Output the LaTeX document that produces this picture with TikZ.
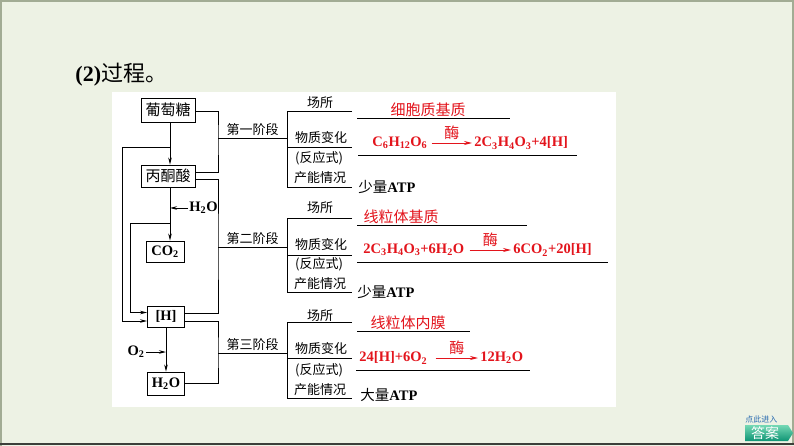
\documentclass[tikz,border=0pt]{standalone}
\usepackage{fontspec}
\setmainfont{Liberation Serif}
\newfontfamily\cjk{Noto Sans CJK SC}
\usetikzlibrary{arrows.meta,calc,positioning}
\definecolor{slideBg}{HTML}{EDF2E4}
\definecolor{slideEdge}{HTML}{A2AC94}
\definecolor{slideDark}{HTML}{3C3F3A}
\definecolor{stageRed}{HTML}{E3141C}
\definecolor{btnLight}{HTML}{74D8B4}
\definecolor{btnDeep}{HTML}{0E9474}
\definecolor{btnBlue}{HTML}{2A6CB0}
\newcommand\zh[1]{{\mdseries\cjk #1}}
\newcommand\dn[1]{\textsubscript{#1}}
\newcommand\fsz[1]{\fontsize{#1}{#1}\selectfont}

\begin{document}
\begin{tikzpicture}[x=1pt,y=-1pt, line width=0.9pt,
    cellbox/.style={draw, inner sep=1pt, fill=white, font=\fsz{15}\cjk},
    formbox/.style={draw, inner sep=1pt, fill=white, font=\fsz{14.5}\bfseries},
    formtxt/.style={inner sep=1pt, font=\fsz{14.5}\bfseries},
    tag/.style={inner sep=0pt, font=\fsz{13}\cjk},
    redzh/.style={inner sep=0pt, text=stageRed, font=\fsz{15}\cjk},
    redtxt/.style={inner sep=0pt, text=stageRed, font=\fsz{14.5}\bfseries},
    atp/.style={inner sep=0pt, font=\fsz{14.5}\bfseries},
    flow/.style={-{Stealth[length=7pt,width=3.5pt]}},
    redflow/.style={draw=stageRed, -{Stealth[length=8pt,width=4pt]}}]
    \useasboundingbox (0,0) rectangle (794,446);
    \fill[slideBg] (0,0) rectangle (794,446);
    \fill[white] (112,92) rectangle (616,407);
    \draw[slideEdge, line width=2pt] (1,446) -- (1,1) -- (793,1) -- (793,443);
    \draw[slideDark, line width=1.5pt] (0,444) -- (794,444);
    \node[anchor=base west, inner sep=0pt, font=\fsz{22}] (title) at (75,82) {\textbf{(2)}\zh{过程。}};
    \node[cellbox, minimum width=54, minimum height=24] (glu) at (168,110) {葡萄糖};
    \node[cellbox, minimum width=54, minimum height=22] (pyr) at (168,176) {丙酮酸};
    \node[formbox, minimum width=38, minimum height=21] (co2) at (165,251.5) {CO\dn{2}};
    \node[formbox, minimum width=37, minimum height=21] (hyd) at (166,316.5) {[H]};
    \node[formbox, minimum width=37, minimum height=23] (wat) at (166,383.5) {H\dn{2}O};
    \coordinate (j1) at (170,147);
    \coordinate (j2) at (170,223);
    \coordinate (lo1) at (122,147);
    \coordinate (lo2) at (130,223);
    \draw[flow] (glu.south -| j1) -- (pyr.north -| j1);
    \draw[flow] (pyr.south -| j1) -- (co2.north -| j1);
    \draw[flow] (hyd.south) -- (wat.north);
    \draw[flow] (j1) -- (lo1) |- ([yshift=-4.5pt]hyd.west);
    \draw[flow] (j2) -- (lo2) |- ([yshift=4pt]hyd.west);
    \node[formtxt, anchor=west] (h2oin) at (188,208) {H\dn{2}O};
    \draw[flow] (h2oin.west) -- (h2oin.west -| j1);
    \node[formtxt, anchor=east] (o2in) at (146,352) {O\dn{2}};
    \draw[flow] (o2in.east) -- (o2in.east -| hyd.south);
    \coordinate (s1) at (218,138);
    \coordinate (s2) at (218,247);
    \coordinate (s3) at (218,353);
    \draw ([yshift=-1pt]glu.east) -| (s1) |- ([yshift=4pt]pyr.east);
    \draw ([yshift=-3pt]pyr.east) -| (s2) |- ([yshift=3.5pt]hyd.east);
    \draw ([yshift=-4.5pt]hyd.east) -| (s3) |- (wat.east);
    \draw (s1) -- (287,138) node[midway, above=1.5pt, tag] (st1) {第一阶段};
    \draw (s2) -- (287,247) node[midway, above=1.5pt, tag] (st2) {第二阶段};
    \draw (s3) -- (287,353) node[midway, above=1.5pt, tag] (st3) {第三阶段};
    \draw (352,111) -- (287,111) -- (287,187) -- (352,187);
    \draw (287,147) -- (352,147);
    \node[tag] (p1) at (320,103) {场所};
    \node[tag] (m1) at (321,138) {物质变化};
    \node[tag] (f1) at (319,158) {(反应式)};
    \node[tag] (e1) at (320,178) {产能情况};
    \node[redzh] (site1) at (428,110) {细胞质基质};
    \draw (357,118) -- (510,118);
    \node[redtxt, anchor=west] (r1a) at (372,143) {C\dn{6}H\dn{12}O\dn{6}};
    \node[redtxt, anchor=west] (r1b) at (474,143) {2C\dn{3}H\dn{4}O\dn{3}+4[H]};
    \draw[redflow] ([xshift=4pt]r1a.east) -- ([xshift=-2pt]r1b.west) node[midway, above=3pt, redzh] (en1) {酶};
    \draw (358,155) -- (577,155);
    \node[atp, anchor=west] (atp1) at (358,187) {\zh{少量}ATP};
    \draw (352,218) -- (287,218) -- (287,292) -- (352,292);
    \draw (287,255) -- (352,255);
    \node[tag] (p2) at (320,208) {场所};
    \node[tag] (m2) at (321,245) {物质变化};
    \node[tag] (f2) at (319,264) {(反应式)};
    \node[tag] (e2) at (320,284) {产能情况};
    \node[redzh] (site2) at (401,217) {线粒体基质};
    \draw (357,225) -- (527,225);
    \node[redtxt, anchor=west] (r2a) at (363,250) {2C\dn{3}H\dn{4}O\dn{3}+6H\dn{2}O};
    \node[redtxt, anchor=west] (r2b) at (513,250) {6CO\dn{2}+20[H]};
    \draw[redflow] ([xshift=5pt]r2a.east) -- ([xshift=-2pt]r2b.west) node[midway, above=3pt, redzh] (en2) {酶};
    \draw (357,262) -- (608,262);
    \node[atp, anchor=west] (atp2) at (357,292) {\zh{少量}ATP};
    \draw (352,322) -- (287,322) -- (287,398) -- (352,398);
    \draw (287,358) -- (352,358);
    \node[tag] (p3) at (320,316) {场所};
    \node[tag] (m3) at (321,349) {物质变化};
    \node[tag] (f3) at (319,370) {(反应式)};
    \node[tag] (e3) at (320,390) {产能情况};
    \node[redzh] (site3) at (408,323) {线粒体内膜};
    \draw (357,331) -- (470,331);
    \node[redtxt, anchor=west] (r3a) at (359,358) {24[H]+6O\dn{2}};
    \node[redtxt, anchor=west] (r3b) at (480,358) {12H\dn{2}O};
    \draw[redflow] ([xshift=8pt]r3a.east) -- ([xshift=-2pt]r3b.west) node[midway, above=3pt, redzh] (en3) {酶};
    \draw (356,370) -- (530,370);
    \node[atp, anchor=west] (atp3) at (360,395) {\zh{大量}ATP};
    \shade[top color=btnLight, bottom color=btnDeep] (745,425) -- (788,425) -- (793,433) -- (788,441) -- (745,441) -- cycle;
    \node[inner sep=0pt, text=white, font=\fsz{14}\cjk] (answer) at (765,433) {答案};
    \node[anchor=west, inner sep=0pt, text=btnBlue, font=\fsz{8}\cjk] (enter) at (745,419) {点此进入};
  \end{tikzpicture}
\end{document}
